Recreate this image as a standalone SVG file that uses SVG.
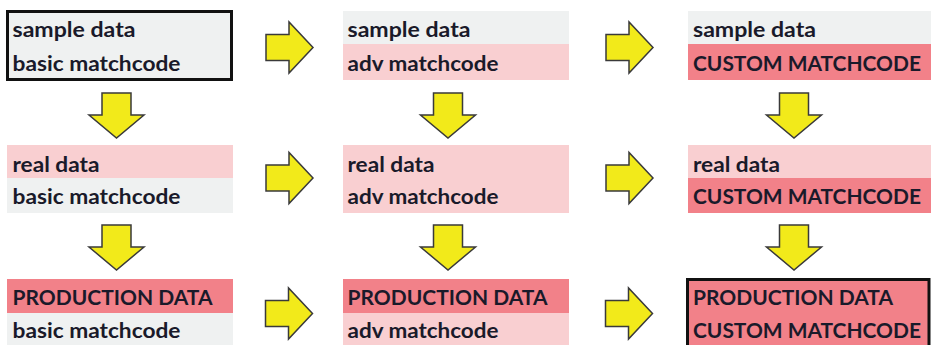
<svg xmlns="http://www.w3.org/2000/svg" xmlns:xlink="http://www.w3.org/1999/xlink" width="931" height="345" viewBox="0 0 931 345">
  <defs>
    <style>
      .grey { fill: #eff1f1; }
      .pale { fill: #f9cfd1; }
      .rose { fill: #f28189; }
      .frame { fill: none; stroke: #111111; stroke-width: 3; }
      .lbl { font-family: Lato, "Open Sans", "Liberation Sans", sans-serif; font-weight: bold; font-size: 20.5px; fill: #1a1a2a; }
      .arrow { fill: #f2ea1a; stroke: #3a3a3a; stroke-width: 1.5; stroke-linejoin: miter; }
    </style>
    <path id="arrow-right" class="arrow" d="M0,-13 H23 V-25.5 L47,0 L23,25.5 V13 H0 Z"/>
    <path id="arrow-down" class="arrow" d="M-14.5,0 H14.5 V22 H27.5 L0,45 L-27.5,22 H-14.5 Z"/>
  </defs>

  <rect width="931" height="345" fill="#ffffff"/>

  <!-- column 1: basic matchcode -->
  <g id="sample-basic">
    <rect class="grey" x="7" y="11" width="225" height="34"/>
    <rect class="grey" x="7" y="45" width="225" height="34"/>
    <rect class="frame" x="7.5" y="11.5" width="224" height="68"/>
    <text class="lbl" x="12.5" y="37" textLength="123" lengthAdjust="spacingAndGlyphs">sample data</text>
    <text class="lbl" x="12.5" y="71" textLength="168" lengthAdjust="spacingAndGlyphs">basic matchcode</text>
  </g>
  <g id="real-basic">
    <rect class="pale" x="7" y="145" width="226" height="33"/>
    <rect class="grey" x="7" y="178" width="226" height="35"/>
    <text class="lbl" x="12.5" y="172" textLength="87" lengthAdjust="spacingAndGlyphs">real data</text>
    <text class="lbl" x="12.5" y="204" textLength="168" lengthAdjust="spacingAndGlyphs">basic matchcode</text>
  </g>
  <g id="production-basic">
    <rect class="rose" x="7" y="279" width="226" height="34"/>
    <rect class="grey" x="7" y="313" width="226" height="32"/>
    <text class="lbl" x="12.5" y="305" textLength="200" lengthAdjust="spacingAndGlyphs">PRODUCTION DATA</text>
    <text class="lbl" x="12.5" y="338" textLength="168" lengthAdjust="spacingAndGlyphs">basic matchcode</text>
  </g>

  <!-- column 2: adv matchcode -->
  <g id="sample-adv">
    <rect class="grey" x="343" y="11" width="226" height="33"/>
    <rect class="pale" x="343" y="44" width="226" height="36"/>
    <text class="lbl" x="347.5" y="37" textLength="123" lengthAdjust="spacingAndGlyphs">sample data</text>
    <text class="lbl" x="347.5" y="71" textLength="151" lengthAdjust="spacingAndGlyphs">adv matchcode</text>
  </g>
  <g id="real-adv">
    <rect class="pale" x="343" y="145" width="226" height="33"/>
    <rect class="pale" x="343" y="178" width="226" height="35"/>
    <text class="lbl" x="347.5" y="172" textLength="87" lengthAdjust="spacingAndGlyphs">real data</text>
    <text class="lbl" x="347.5" y="204" textLength="151" lengthAdjust="spacingAndGlyphs">adv matchcode</text>
  </g>
  <g id="production-adv">
    <rect class="rose" x="343" y="279" width="226" height="34"/>
    <rect class="pale" x="343" y="313" width="226" height="32"/>
    <text class="lbl" x="347.5" y="305" textLength="200" lengthAdjust="spacingAndGlyphs">PRODUCTION DATA</text>
    <text class="lbl" x="347.5" y="338" textLength="151" lengthAdjust="spacingAndGlyphs">adv matchcode</text>
  </g>

  <!-- column 3: custom matchcode -->
  <g id="sample-custom">
    <rect class="grey" x="688" y="11" width="243" height="33"/>
    <rect class="rose" x="688" y="44" width="243" height="36"/>
    <text class="lbl" x="693" y="37" textLength="123" lengthAdjust="spacingAndGlyphs">sample data</text>
    <text class="lbl" x="693" y="71" textLength="228" lengthAdjust="spacingAndGlyphs">CUSTOM MATCHCODE</text>
  </g>
  <g id="real-custom">
    <rect class="pale" x="688" y="145" width="243" height="33"/>
    <rect class="rose" x="688" y="178" width="243" height="35"/>
    <text class="lbl" x="693" y="172" textLength="87" lengthAdjust="spacingAndGlyphs">real data</text>
    <text class="lbl" x="693" y="204" textLength="228" lengthAdjust="spacingAndGlyphs">CUSTOM MATCHCODE</text>
  </g>
  <g id="production-custom">
    <rect class="rose" x="687" y="279" width="243" height="68"/>
    <rect class="frame" x="687.5" y="279.5" width="241.5" height="70"/>
    <text class="lbl" x="693" y="305" textLength="200" lengthAdjust="spacingAndGlyphs">PRODUCTION DATA</text>
    <text class="lbl" x="693" y="338" textLength="228" lengthAdjust="spacingAndGlyphs">CUSTOM MATCHCODE</text>
  </g>

  <!-- block arrows between stages -->
  <g id="connectors">
    <use xlink:href="#arrow-right" x="266" y="47.5"/>
    <use xlink:href="#arrow-right" x="606" y="47.5"/>
    <use xlink:href="#arrow-right" x="266" y="178"/>
    <use xlink:href="#arrow-right" x="606" y="178"/>
    <use xlink:href="#arrow-right" x="265.5" y="313.5"/>
    <use xlink:href="#arrow-right" x="605.5" y="313.5"/>
    <use xlink:href="#arrow-down" x="116.5" y="93"/>
    <use xlink:href="#arrow-down" x="448" y="93"/>
    <use xlink:href="#arrow-down" x="794" y="93"/>
    <use xlink:href="#arrow-down" x="116.5" y="225"/>
    <use xlink:href="#arrow-down" x="448" y="225"/>
    <use xlink:href="#arrow-down" x="794" y="225"/>
  </g>
</svg>
